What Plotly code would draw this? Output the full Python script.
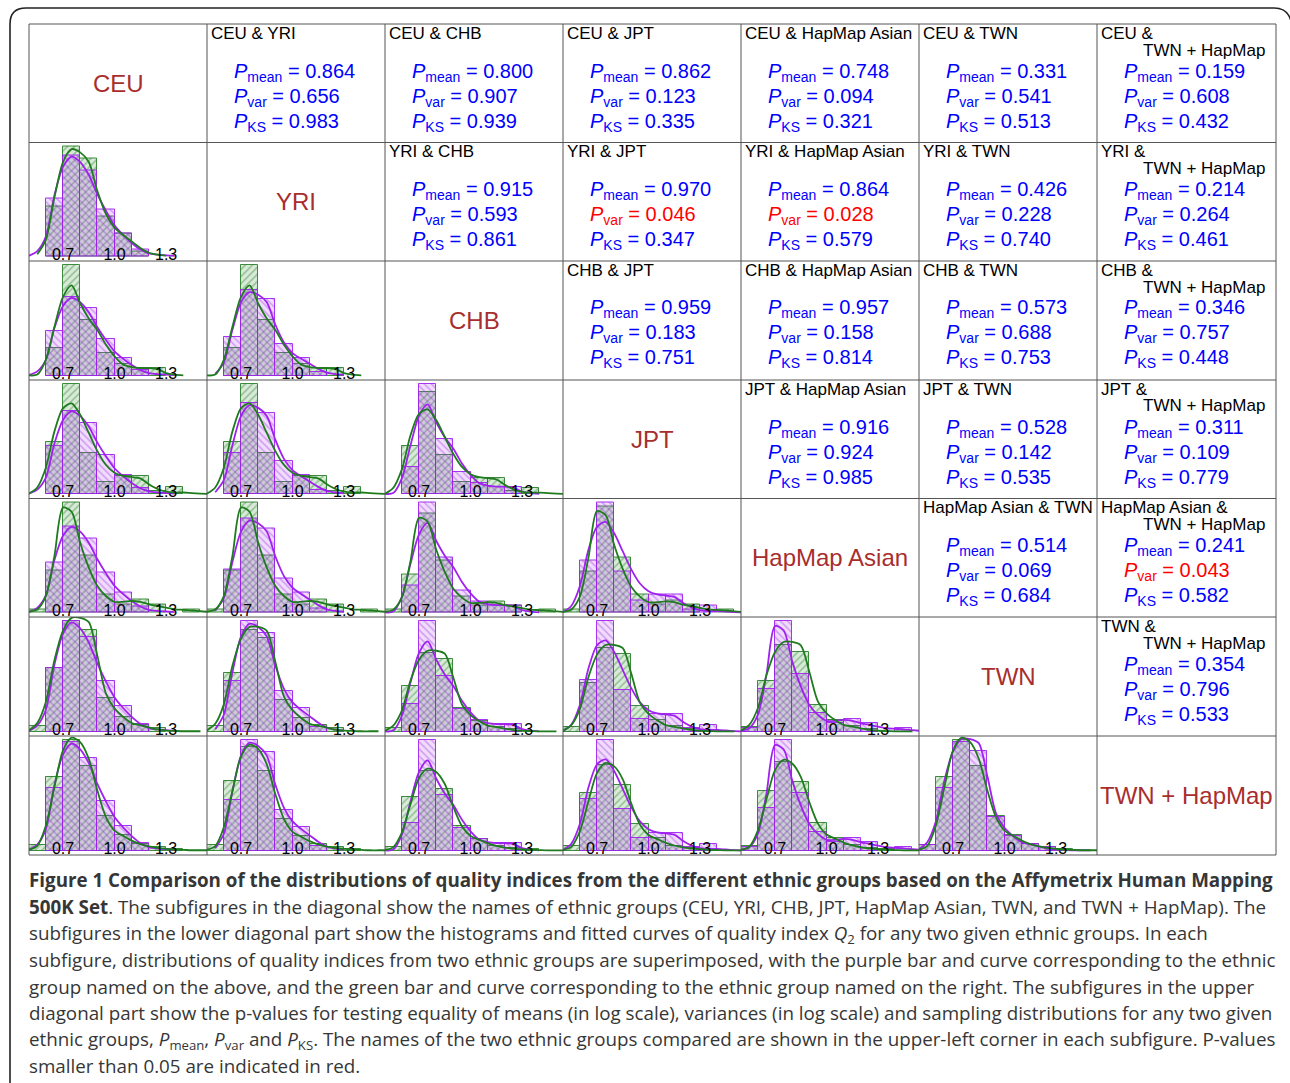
import plotly.graph_objects as go

W, H = 1290, 1083

# ---------------- data ----------------
groups = ["CEU", "YRI", "CHB", "JPT", "HapMap Asian", "TWN", "TWN + HapMap"]

# histogram bins (width 0.1) : centres of 0.5-0.6 ... 1.4-1.5
bin_centers = [0.55, 0.65, 0.75, 0.85, 0.95, 1.05, 1.15, 1.25, 1.35, 1.45]
bin_width = 0.1

# density of quality index Q2 per bin, one list per ethnic group
hist_ceu = [0, 1.80, 3.13, 2.68, 1.45, 0.72, 0.22, 0, 0, 0]
hist_yri = [0, 1.55, 3.40, 3.05, 1.25, 0.72, 0.15, 0, 0, 0]
hist_chb = [0, 1.10, 4.40, 2.22, 0.90, 0.45, 0.30, 0.30, 0, 0]
hist_jpt = [0, 1.94, 4.11, 1.55, 0.47, 0.66, 0.66, 0.12, 0.25, 0]
hist_hma = [0.12, 1.54, 3.97, 2.07, 0.66, 0.30, 0.46, 0.30, 0, 0.12]
hist_twn = [0.16, 1.82, 3.13, 2.88, 0.96, 0.42, 0.20, 0.10, 0, 0]
hist_twh = [0.16, 2.14, 3.19, 2.46, 0.99, 0.46, 0.19, 0.10, 0.05, 0]

# fitted density curves
curve_x = [0.50, 0.55, 0.60, 0.65, 0.70, 0.75, 0.80, 0.85, 0.90, 0.95, 1.00,
           1.05, 1.10, 1.15, 1.20, 1.25, 1.30, 1.35, 1.40, 1.45, 1.50, 1.54]
curve_ceu = [0.02, 0.17, 0.62, 1.90, 2.78, 3.10, 2.93, 2.53, 1.93, 1.42, 0.97,
             0.67, 0.42, 0.22, 0.10, 0.06, 0.04, 0.02, None, None, None, None]
curve_yri = [None, 0.07, 0.52, 1.83, 2.93, 3.33, 3.23, 2.93, 2.03, 1.32, 0.90,
             0.67, 0.47, 0.27, 0.12, 0.06, 0.03, None, None, None, None, None]
curve_chb = [0.01, 0.04, 0.63, 1.95, 3.14, 3.60, 2.88, 2.28, 1.82, 1.23, 0.77,
             0.44, 0.34, 0.30, 0.30, 0.26, 0.10, 0.04, 0.01, None, None, None]
curve_jpt = [0.01, 0.25, 0.99, 2.35, 3.22, 3.40, 2.97, 2.29, 1.61, 1.09, 0.80,
             0.68, 0.64, 0.59, 0.37, 0.19, 0.09, 0.06, 0.06, 0.04, 0.02, 0.01]
curve_hma = [0.03, 0.12, 0.60, 2.05, 3.80, 3.65, 2.53, 1.63, 0.96, 0.60, 0.39,
             0.39, 0.42, 0.39, 0.30, 0.24, 0.18, 0.12, 0.10, 0.08, 0.05, 0.03]
curve_twn = [0.03, 0.24, 0.84, 2.03, 2.87, 3.23, 3.23, 3.11, 2.15, 1.08, 0.66,
             0.42, 0.24, 0.18, 0.12, 0.06, 0.03, 0.02, 0.01, 0.01, 0.01, None]
curve_twh = [0.02, 0.14, 0.72, 1.84, 2.90, 3.27, 3.14, 2.66, 1.74, 0.97, 0.58,
             0.43, 0.29, 0.19, 0.12, 0.08, 0.05, 0.03, 0.02, 0.01, 0.01, 0.01]

hists = [hist_ceu, hist_yri, hist_chb, hist_jpt, hist_hma, hist_twn, hist_twh]
curves = [curve_ceu, curve_yri, curve_chb, curve_jpt, curve_hma, curve_twn, curve_twh]

tick_vals = [0.7, 1.0, 1.3]
tick_text = ["0.7", "1.0", "1.3"]

# p-values of the upper triangle, row by row (CEU&YRI, CEU&CHB, ..., TWN&TWN + HapMap)
p_mean = ["0.864", "0.800", "0.862", "0.748", "0.331", "0.159",
          "0.915", "0.970", "0.864", "0.426", "0.214",
          "0.959", "0.957", "0.573", "0.346",
          "0.916", "0.528", "0.311",
          "0.514", "0.241",
          "0.354"]
p_var = ["0.656", "0.907", "0.123", "0.094", "0.541", "0.608",
         "0.593", "0.046", "0.028", "0.228", "0.264",
         "0.183", "0.158", "0.688", "0.757",
         "0.924", "0.142", "0.109",
         "0.069", "0.043",
         "0.796"]
p_ks = ["0.983", "0.939", "0.335", "0.321", "0.513", "0.432",
        "0.861", "0.347", "0.579", "0.740", "0.461",
        "0.751", "0.814", "0.753", "0.448",
        "0.985", "0.535", "0.779",
        "0.684", "0.582",
        "0.533"]

caption_lines = [
    "<b>Figure 1 Comparison of the distributions of quality indices from the different ethnic groups based on the Affymetrix Human Mapping</b>",
    "<b>500K Set</b>. The subfigures in the diagonal show the names of ethnic groups (CEU, YRI, CHB, JPT, HapMap Asian, TWN, and TWN + HapMap). The",
    "subfigures in the lower diagonal part show the histograms and fitted curves of quality index <i>Q</i><sub>2</sub> for any two given ethnic groups. In each",
    "subfigure, distributions of quality indices from two ethnic groups are superimposed, with the purple bar and curve corresponding to the ethnic",
    "group named on the above, and the green bar and curve corresponding to the ethnic group named on the right. The subfigures in the upper",
    "diagonal part show the p-values for testing equality of means (in log scale), variances (in log scale) and sampling distributions for any two given",
    "ethnic groups, <i>P</i><sub>mean</sub>, <i>P</i><sub>var</sub> and <i>P</i><sub>KS</sub>. The names of the two ethnic groups compared are shown in the upper-left corner in each subfigure. P-values",
    "smaller than 0.05 are indicated in red.",
]

# ---------------- layout helpers ----------------
col_edges = [29, 207, 385, 563, 741, 919, 1097, 1276]
row_edges = [24, 142.5, 261, 380, 498.5, 617, 736, 855]


def px(x):
    return x / W


def py(y):
    return 1 - y / H


FONT = "Liberation Sans, Arial, sans-serif"
PURPLE = "#A020F0"
GREEN = "#1E7B1E"
XR = [0.502, 1.538]

fig = go.Figure()
layout_axes = {}
annotations = []
shapes = []

n = 0
for i in range(7):
    for j in range(i):
        n += 1
        xa = "x" if n == 1 else f"x{n}"
        ya = "y" if n == 1 else f"y{n}"
        hp, hg = hists[j], hists[i]
        M = max(max(hp), max(hg))
        # green (row group) bars
        xs = [c for c, v in zip(bin_centers, hg) if v > 0]
        ys = [v for v in hg if v > 0]
        fig.add_trace(go.Bar(
            x=xs, y=ys, width=bin_width, xaxis=xa, yaxis=ya, showlegend=False,
            marker=dict(color="rgba(60,150,60,0.20)",
                        line=dict(color="rgba(30,120,30,0.85)", width=1),
                        pattern=dict(shape="/", fgcolor="rgba(20,110,20,0.7)",
                                     size=5, solidity=0.33, fillmode="overlay"))))
        # purple (column group) bars
        xs = [c for c, v in zip(bin_centers, hp) if v > 0]
        ys = [v for v in hp if v > 0]
        fig.add_trace(go.Bar(
            x=xs, y=ys, width=bin_width, xaxis=xa, yaxis=ya, showlegend=False,
            marker=dict(color="rgba(170,60,240,0.18)",
                        line=dict(color="rgba(160,32,240,0.9)", width=1),
                        pattern=dict(shape="\\", fgcolor="rgba(150,40,220,0.7)",
                                     size=5, solidity=0.33, fillmode="overlay"))))
        fig.add_trace(go.Scatter(
            x=curve_x, y=curves[j], mode="lines", xaxis=xa, yaxis=ya, showlegend=False,
            line=dict(color=PURPLE, width=1.8, shape="spline", smoothing=0.8),
            connectgaps=False))
        fig.add_trace(go.Scatter(
            x=curve_x, y=curves[i], mode="lines", xaxis=xa, yaxis=ya, showlegend=False,
            line=dict(color=GREEN, width=1.8, shape="spline", smoothing=0.8),
            connectgaps=False))
        kx = "xaxis" if n == 1 else f"xaxis{n}"
        ky = "yaxis" if n == 1 else f"yaxis{n}"
        layout_axes[kx] = dict(
            domain=[px(col_edges[j]), px(col_edges[j + 1])], anchor="free",
            position=py(row_edges[i + 1] + 5),
            range=XR, showgrid=False, zeroline=False, showline=False,
            tickvals=tick_vals, ticktext=tick_text, ticks="",
            ticklabelposition="inside", ticklabelstandoff=0,
            tickfont=dict(family=FONT, size=16, color="black"), fixedrange=True)
        layout_axes[ky] = dict(
            domain=[py(row_edges[i + 1]), py(row_edges[i])], anchor=xa,
            range=[-0.04 * M, 1.04 * M], visible=False, fixedrange=True)

# diagonal labels
for k, g in enumerate(groups):
    annotations.append(dict(
        x=px((col_edges[k] + col_edges[k + 1]) / 2),
        y=py((row_edges[k] + row_edges[k + 1]) / 2),
        xref="paper", yref="paper", text=g, showarrow=False,
        font=dict(family=FONT, size=24, color="#A82E2E"),
        xanchor="center", yanchor="middle"))

# upper triangle text
k = 0
for i in range(7):
    for j in range(i + 1, 7):
        left, right, top = col_edges[j], col_edges[j + 1], row_edges[i]
        a, b = groups[i], groups[j]
        hfont = dict(family=FONT, size=17, color="black")
        if b == "TWN + HapMap":
            annotations.append(dict(x=px(left + 2), y=py(top + 9), xref="paper", yref="paper",
                                    text=a + " &", showarrow=False, font=hfont,
                                    xanchor="left", yanchor="middle"))
            annotations.append(dict(x=px(right - 9), y=py(top + 26), xref="paper", yref="paper",
                                    text=b, showarrow=False, font=hfont,
                                    xanchor="right", yanchor="middle"))
        else:
            annotations.append(dict(x=px(left + 2), y=py(top + 9), xref="paper", yref="paper",
                                    text=a + " & " + b, showarrow=False, font=hfont,
                                    xanchor="left", yanchor="middle"))
        for off, sub, val in [(48, "mean", p_mean[k]), (73, "var", p_var[k]), (98, "KS", p_ks[k])]:
            col = "#FF0000" if float(val) < 0.05 else "#0000FF"
            annotations.append(dict(
                x=px(left + 25), y=py(top + off), xref="paper", yref="paper",
                text=f"<i>P</i><sub>{sub}</sub> = {val}", showarrow=False,
                font=dict(family=FONT, size=20, color=col),
                xanchor="left", yanchor="middle"))
        k += 1

# caption
cap_y = [880, 907, 933.5, 960, 986.5, 1013, 1040, 1066]
for t, yy in zip(caption_lines, cap_y):
    annotations.append(dict(
        x=px(27), y=py(yy), xref="paper", yref="paper", text=t, showarrow=False,
        font=dict(family="Open Sans, Lato, sans-serif", size=18.8, color="#363636"),
        xanchor="left", yanchor="middle", align="left"))

# table grid lines
for xe in col_edges:
    shapes.append(dict(type="line", xref="paper", yref="paper",
                       x0=px(xe), x1=px(xe), y0=py(row_edges[0]), y1=py(row_edges[-1]),
                       line=dict(color="#555555", width=1)))
for ye in row_edges:
    shapes.append(dict(type="line", xref="paper", yref="paper",
                       x0=px(col_edges[0]), x1=px(col_edges[-1]), y0=py(ye), y1=py(ye),
                       line=dict(color="#555555", width=1)))

# rounded outer frame
path = (f"M {px(10)},{py(1095)} L {px(10)},{py(24)} Q {px(10)},{py(8)} {px(26)},{py(8)} "
        f"L {px(1274)},{py(8)} Q {px(1290)},{py(8)} {px(1292)},{py(26)}")
shapes.append(dict(type="path", xref="paper", yref="paper", path=path,
                   line=dict(color="#222222", width=1.6)))

fig.update_layout(
    width=W, height=H, margin=dict(l=0, r=0, t=0, b=0),
    paper_bgcolor="white", plot_bgcolor="rgba(0,0,0,0)",
    barmode="overlay", bargap=0, showlegend=False,
    annotations=annotations, shapes=shapes, **layout_axes)

fig.write_html("out.html")
